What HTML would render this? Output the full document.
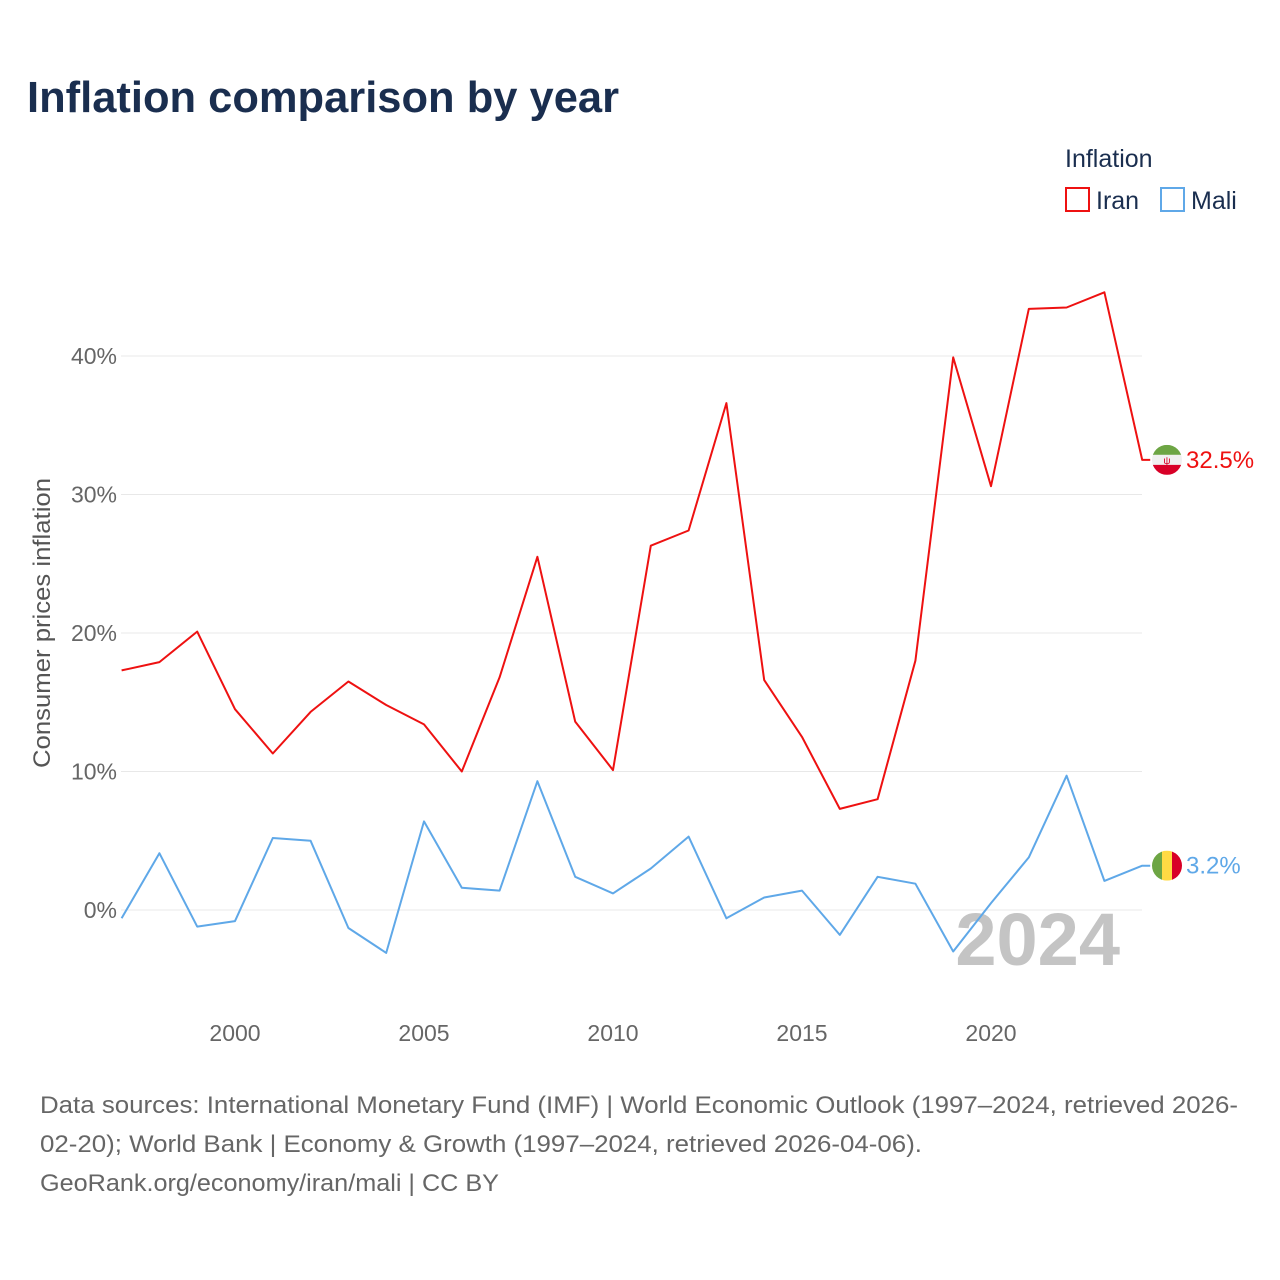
<!DOCTYPE html>
<html><head><meta charset="utf-8"><style>
body{margin:0;background:#fff;font-family:"Liberation Sans",sans-serif;}
#wrap{position:relative;width:1280px;height:1280px;overflow:hidden;}
</style></head><body>
<div id="wrap">
<svg id="svg" width="1280" height="1280" xmlns="http://www.w3.org/2000/svg">
<text x="27" y="112" font-size="44" font-weight="bold" fill="#1a2e4f" textLength="592" lengthAdjust="spacingAndGlyphs">Inflation comparison by year</text>
<g>
<text x="1065" y="167" font-size="25" fill="#1a2e4f">Inflation</text>
<g><rect x="1066" y="188" width="23" height="23" fill="none" stroke="#ee1111" stroke-width="2"/><text x="1096" y="209" font-size="25" fill="#1a2e4f">Iran</text></g>
<g><rect x="1161" y="188" width="23" height="23" fill="none" stroke="#5fa8e8" stroke-width="2"/><text x="1191" y="209" font-size="25" fill="#1a2e4f">Mali</text></g>
</g>
<g id="grid"></g>
<g id="yt"></g>
<g id="xt"></g>
<text transform="translate(50,623) rotate(-90)" text-anchor="middle" font-size="24" fill="#555" textLength="290" lengthAdjust="spacingAndGlyphs">Consumer prices inflation</text>
<text x="1120" y="965" text-anchor="end" font-size="74" font-weight="bold" fill="#c4c4c4">2024</text>
<g id="lines"></g>
<g id="ends"></g>
<g font-size="24" fill="#666">
<text x="40" y="1113" textLength="1198" lengthAdjust="spacingAndGlyphs">Data sources: International Monetary Fund (IMF) | World Economic Outlook (1997–2024, retrieved 2026-</text>
<text x="40" y="1152" textLength="882" lengthAdjust="spacingAndGlyphs">02-20); World Bank | Economy &amp; Growth (1997–2024, retrieved 2026-04-06).</text>
<text x="40" y="1191" textLength="459" lengthAdjust="spacingAndGlyphs">GeoRank.org/economy/iran/mali | CC BY</text>
</g>
</svg></div>
<script>
const years=[1997,1998,1999,2000,2001,2002,2003,2004,2005,2006,2007,2008,2009,2010,2011,2012,2013,2014,2015,2016,2017,2018,2019,2020,2021,2022,2023,2024];
const iran=[17.3,17.9,20.1,14.5,11.3,14.3,16.5,14.8,13.4,10.0,16.8,25.5,13.6,10.1,26.3,27.4,36.6,16.6,12.5,7.3,8.0,18.0,39.9,30.6,43.4,43.5,44.6,32.5];
const mali=[-0.6,4.1,-1.2,-0.8,5.2,5.0,-1.3,-3.1,6.4,1.6,1.4,9.3,2.4,1.2,3.0,5.3,-0.6,0.9,1.4,-1.8,2.4,1.9,-3.0,0.5,3.8,9.7,2.1,3.2];
const yTicks=[0,10,20,30,40];
const xTicks=[2000,2005,2010,2015,2020];
const NS="http://www.w3.org/2000/svg";
const X=y=>121.6+(y-1997)*37.8;
const Y=v=>910-v*13.85;
function mk(t,a,p){const e=document.createElementNS(NS,t);for(const k in a)e.setAttribute(k,a[k]);p.appendChild(e);return e;}
const grid=document.getElementById('grid'),yt=document.getElementById('yt'),xt=document.getElementById('xt');
yTicks.forEach(v=>{const l=mk('line',{x1:121,x2:1142,y1:Y(v),y2:Y(v),stroke:'#e8e8e8','stroke-width':1},grid);


const t=mk('text',{x:117,y:Y(v)+8,'text-anchor':'end','font-size':23,fill:'#666'},yt);t.textContent=v+'%';

});
xTicks.forEach(v=>{const t=mk('text',{x:X(v),y:1041,'text-anchor':'middle','font-size':23,fill:'#666'},xt);t.textContent=v;

});
const lines=document.getElementById('lines');
function series(vals,col,name){let d=vals.map((v,i)=>(i?'L':'M')+X(years[i]).toFixed(1)+' '+Y(v).toFixed(1)).join(' ');
d+=' L'+(X(years[years.length-1])+8)+' '+Y(vals[vals.length-1]).toFixed(1);
const p=mk('path',{d:d,fill:'none',stroke:col,'stroke-width':2,'stroke-linejoin':'round'},lines);

}
series(mali,'#5fa8e8','mali-line');
series(iran,'#ee1111','iran-line');
const ends=document.getElementById('ends');
const iy=Y(iran[iran.length-1]),my=Y(mali[mali.length-1]);
const fi=mk('g',{},ends);


const cp1=mk('clipPath',{id:'c1'},fi);mk('circle',{cx:1167,cy:iy,r:15},cp1);
const gi=mk('g',{'clip-path':'url(#c1)'},fi);
mk('rect',{x:1152,y:iy-15,width:30,height:10,fill:'#6da544'},gi);
mk('rect',{x:1152,y:iy-5,width:30,height:10,fill:'#f0f0f0'},gi);
mk('rect',{x:1152,y:iy+5,width:30,height:10,fill:'#d80027'},gi);
mk('text',{x:1167,y:iy+4,'text-anchor':'middle','font-size':10,fill:'#d80027'},gi).textContent='ψ';
const ti=mk('text',{x:1186,y:iy+8,'font-size':24,fill:'#ee1111'},ends);ti.textContent=iran[iran.length-1]+'%';


const fm=mk('g',{},ends);


const cp=mk('clipPath',{id:'c2'},fm);mk('circle',{cx:1167,cy:my,r:15},cp);
const gm=mk('g',{'clip-path':'url(#c2)'},fm);
mk('rect',{x:1152,y:my-15,width:10,height:30,fill:'#6da544'},gm);
mk('rect',{x:1162,y:my-15,width:10,height:30,fill:'#ffda44'},gm);
mk('rect',{x:1172,y:my-15,width:10,height:30,fill:'#d80027'},gm);
const tm=mk('text',{x:1186,y:my+8,'font-size':24,fill:'#5fa8e8'},ends);tm.textContent=mali[mali.length-1]+'%';


</script>
</body></html>
